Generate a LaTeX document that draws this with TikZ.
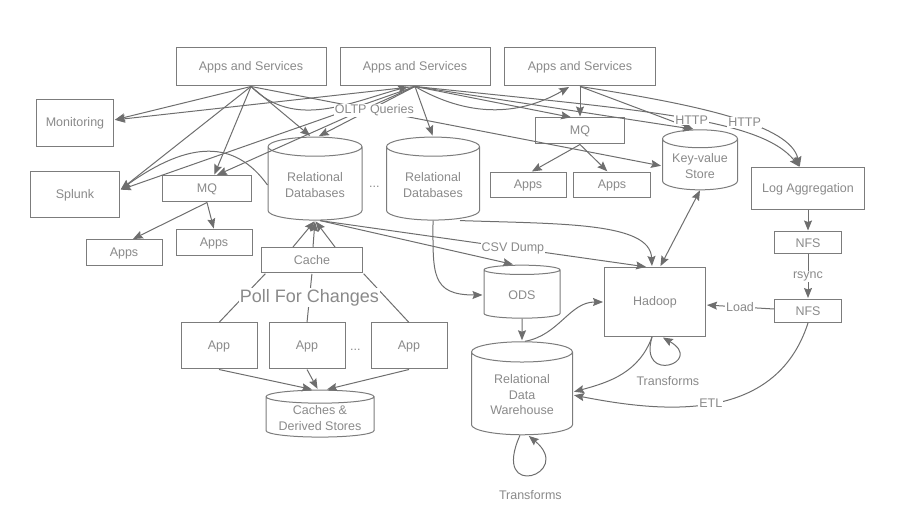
\documentclass[tikz,border=0pt]{standalone}
\usepackage{fontspec}
\setmainfont{Liberation Sans}
\usepackage[dvipsnames]{xcolor}
\usetikzlibrary{shapes,shapes.geometric,positioning,arrows.meta}
\definecolor{linegray}{HTML}{6E6E6E}
\definecolor{boxgray}{HTML}{7C7C7C}
\definecolor{textgray}{HTML}{8A8A8A}
\tikzset{
    box/.style={draw=boxgray,fill=white,rectangle,line width=1pt,inner sep=2pt,text=textgray,font=\fontsize{12.5}{15.5}\selectfont,align=center},
    store/.style={box,cylinder,shape border rotate=90,aspect=0.3},
    lbl/.style={fill=white,inner sep=1pt,text=textgray,font=\fontsize{12.5}{15}\selectfont},
    poll/.style={lbl,font=\fontsize{18}{20}\selectfont},
    txt/.style={text=textgray,font=\fontsize{12.5}{15}\selectfont},
}
\begin{document}
\begin{tikzpicture}[x=1pt,y=1pt,->,>={Stealth[length=10pt,width=8pt,inset=1.5pt]},shorten >=1pt,line width=1pt,color=linegray,node distance=1cm]
        \useasboundingbox (0,0) rectangle (908,-529);
        % sources
        \node[box,minimum width=150pt,minimum height=38pt] (as1) at (251,-67) {Apps and Services};
        \node[box,minimum width=150pt,minimum height=38pt] (as2) at (415,-67) {Apps and Services};
        \node[box,minimum width=151pt,minimum height=38pt] (as3) at (580,-67) {Apps and Services};
        \node[box,minimum width=77pt,minimum height=47pt] (mon) at (75,-123) {Monitoring};
        \node[box,minimum width=89pt,minimum height=46pt] (spl) at (75,-195) {Splunk};
        \node[box,minimum width=89pt,minimum height=26pt] (mq1) at (207,-189) {MQ};
        \node[box,minimum width=76pt,minimum height=26pt] (appsa) at (124,-253) {Apps};
        \node[box,minimum width=76pt,minimum height=26pt] (appsb) at (214,-243) {Apps};
        \node[store,minimum width=94pt,minimum height=83pt] (rdb1) at (315,-185) {Relational\\Databases};
        \node[txt] (dots1) [right of = rdb1, xshift=31pt, yshift=-2pt]{...};
        \node[store,minimum width=93pt,minimum height=83pt] (rdb2) at (433,-185) {Relational\\Databases};
        \node[box,minimum width=101pt,minimum height=25pt] (cache) at (312,-260) {Cache};
        \node[box,minimum width=76pt,minimum height=46pt] (app1) at (219,-346) {App};
        \node[box,minimum width=76pt,minimum height=46pt] (app2) at (307,-346) {App};
        \node[txt] (dots2) [right of = app2, xshift=20pt, yshift=-4pt]{...};
        \node[box,minimum width=76pt,minimum height=46pt] (app3) at (409,-346) {App};
        \node[store,aspect=0.15,minimum width=108pt,minimum height=45pt] (cds) at (320,-418) {Caches \&\\Derived Stores};
        \node[box,minimum width=89pt,minimum height=26pt] (mq2) at (580,-131) {MQ};
        \node[box,minimum width=76pt,minimum height=25pt] (appsc) at (528,-185) {Apps};
        \node[box,minimum width=77pt,minimum height=25pt] (appsd) at (612,-185) {Apps};
        \node[store,minimum width=75pt,minimum height=60pt] (kv) at (700,-166) {Key-value\\Store};
        \node[box,minimum width=113pt,minimum height=42pt] (log) at (808,-189) {Log Aggregation};
        \node[box,minimum width=67pt,minimum height=22pt] (nfs1) at (808,-243) {NFS};
        \node[box,minimum width=67pt,minimum height=23pt] (nfs2) at (808,-311) {NFS};
        \node[box,minimum width=101pt,minimum height=69pt] (hadoop) at (655,-302) {Hadoop};
        \node[store,minimum width=76pt,minimum height=53pt] (ods) at (522,-295) {ODS};
        \node[store,minimum width=101pt,minimum height=93pt] (rdw) at (522,-395) {Relational\\Data\\Warehouse};

        % top fan out
        \path
            (as1.south) edge ([yshift=3pt]mon.east)
            (as1.south) edge ([yshift=5pt]spl.east)
            (as1.south) edge ([xshift=7pt]mq1.north)
            (as1.south) edge ([xshift=-4pt]rdb1.north)
            (as1.south) edge[out=-45,in=-165] ([xshift=-6pt]as2.south)
            (as2.south) edge ([yshift=3pt]mon.east)
            (as2.south) edge ([yshift=5pt]spl.east)
            (as2.south) edge ([xshift=9pt]mq1.north)
            (as2.south) edge ([xshift=3pt]rdb1.north)
            (as2.south) edge (rdb2.north)
            (as2.south) edge ([xshift=-8pt]mq2.north)
            (as2.south) edge ([xshift=-6pt]kv.north)
            (as2.south) edge[out=-30,in=-150] ([xshift=-10pt]as3.south)
            (as3.south) edge (mq2.north)
            (as3.south) edge ([xshift=-6pt]kv.north)
            (mq1.south) edge ([xshift=8pt]appsa.north)
            (mq1.south) edge (appsb.north)
            (mq2.south) edge ([xshift=3pt]appsc.north)
            (mq2.south) edge ([xshift=-4pt]appsd.north)
            ;
        \draw (rdb1.west) .. controls (235,-140) and (190,-140) .. ([yshift=5pt]spl.east);
        \draw (as2.south) .. controls (640,-110) and (760,-118) .. node[lbl,pos=0.54]{HTTP} ([xshift=-8pt]log.north);
        \draw (as3.south) .. controls (700,-105) and (790,-125) .. node[lbl,pos=0.56]{HTTP} ([xshift=-8pt]log.north);
        \path (as1.south) edge node[lbl,pos=0.3]{OLTP Queries} (kv.west);

        % cache and apps
        \path
            ([xshift=-19pt]cache.north) edge (rdb1.south)
            ([xshift=1pt]cache.north) edge (rdb1.south)
            ([xshift=23pt]cache.north) edge (rdb1.south)
            (app1.north) edge[-] ([xshift=5pt]cache.south west)
            (app3.north) edge[-] (cache.south east)
            (app2.north) edge[-] node[poll]{Poll For Changes} (cache.south)
            (app1.south) edge ([xshift=-7pt]cds.north)
            (app2.south) edge ([xshift=-2pt]cds.north)
            (app3.south) edge ([xshift=6pt]cds.north)
            ;

        % warehouse side
        \path
            ([xshift=5pt]rdb1.south) edge ([xshift=-8pt]ods.north)
            (rdb2.south) edge[out=-90,in=180,looseness=1.5] (ods.west)
            (kv.south) edge[<->] ([xshift=5pt]hadoop.north)
            (log.south) edge (nfs1.north)
            (nfs1) edge node[lbl]{rsync} (nfs2)
            (nfs2) edge node[lbl]{Load} (hadoop)
            (ods) edge (rdw)
            ([xshift=-3pt]hadoop.south) edge[out=-110,in=15] ([yshift=3pt]rdw.east)
            ([xshift=3pt]rdw.north) edge[out=10,in=180] (hadoop.west)
            ([xshift=5pt]rdb1.south) edge node[lbl,pos=0.59]{CSV Dump} ([xshift=-8pt]hadoop.north)
            ;
        \draw ([xshift=27pt]rdb2.south) .. controls (560,-224) and (650,-222) .. ([xshift=-3pt]hadoop.north);
        \draw (nfs2.south) .. controls (775,-425) and (660,-412) .. node[lbl,pos=0.5]{ETL} (rdw.east);
        \draw ([xshift=-3pt]hadoop.south) .. controls (638,-385) and (705,-362) .. node[lbl,below=11pt]{Transforms} ([xshift=7pt]hadoop.south);
        \draw ([xshift=-2pt]rdw.south) .. controls (490,-502) and (575,-474) .. node[lbl,below=14pt]{Transforms} ([xshift=6pt]rdw.south);
\end{tikzpicture}
\end{document}
